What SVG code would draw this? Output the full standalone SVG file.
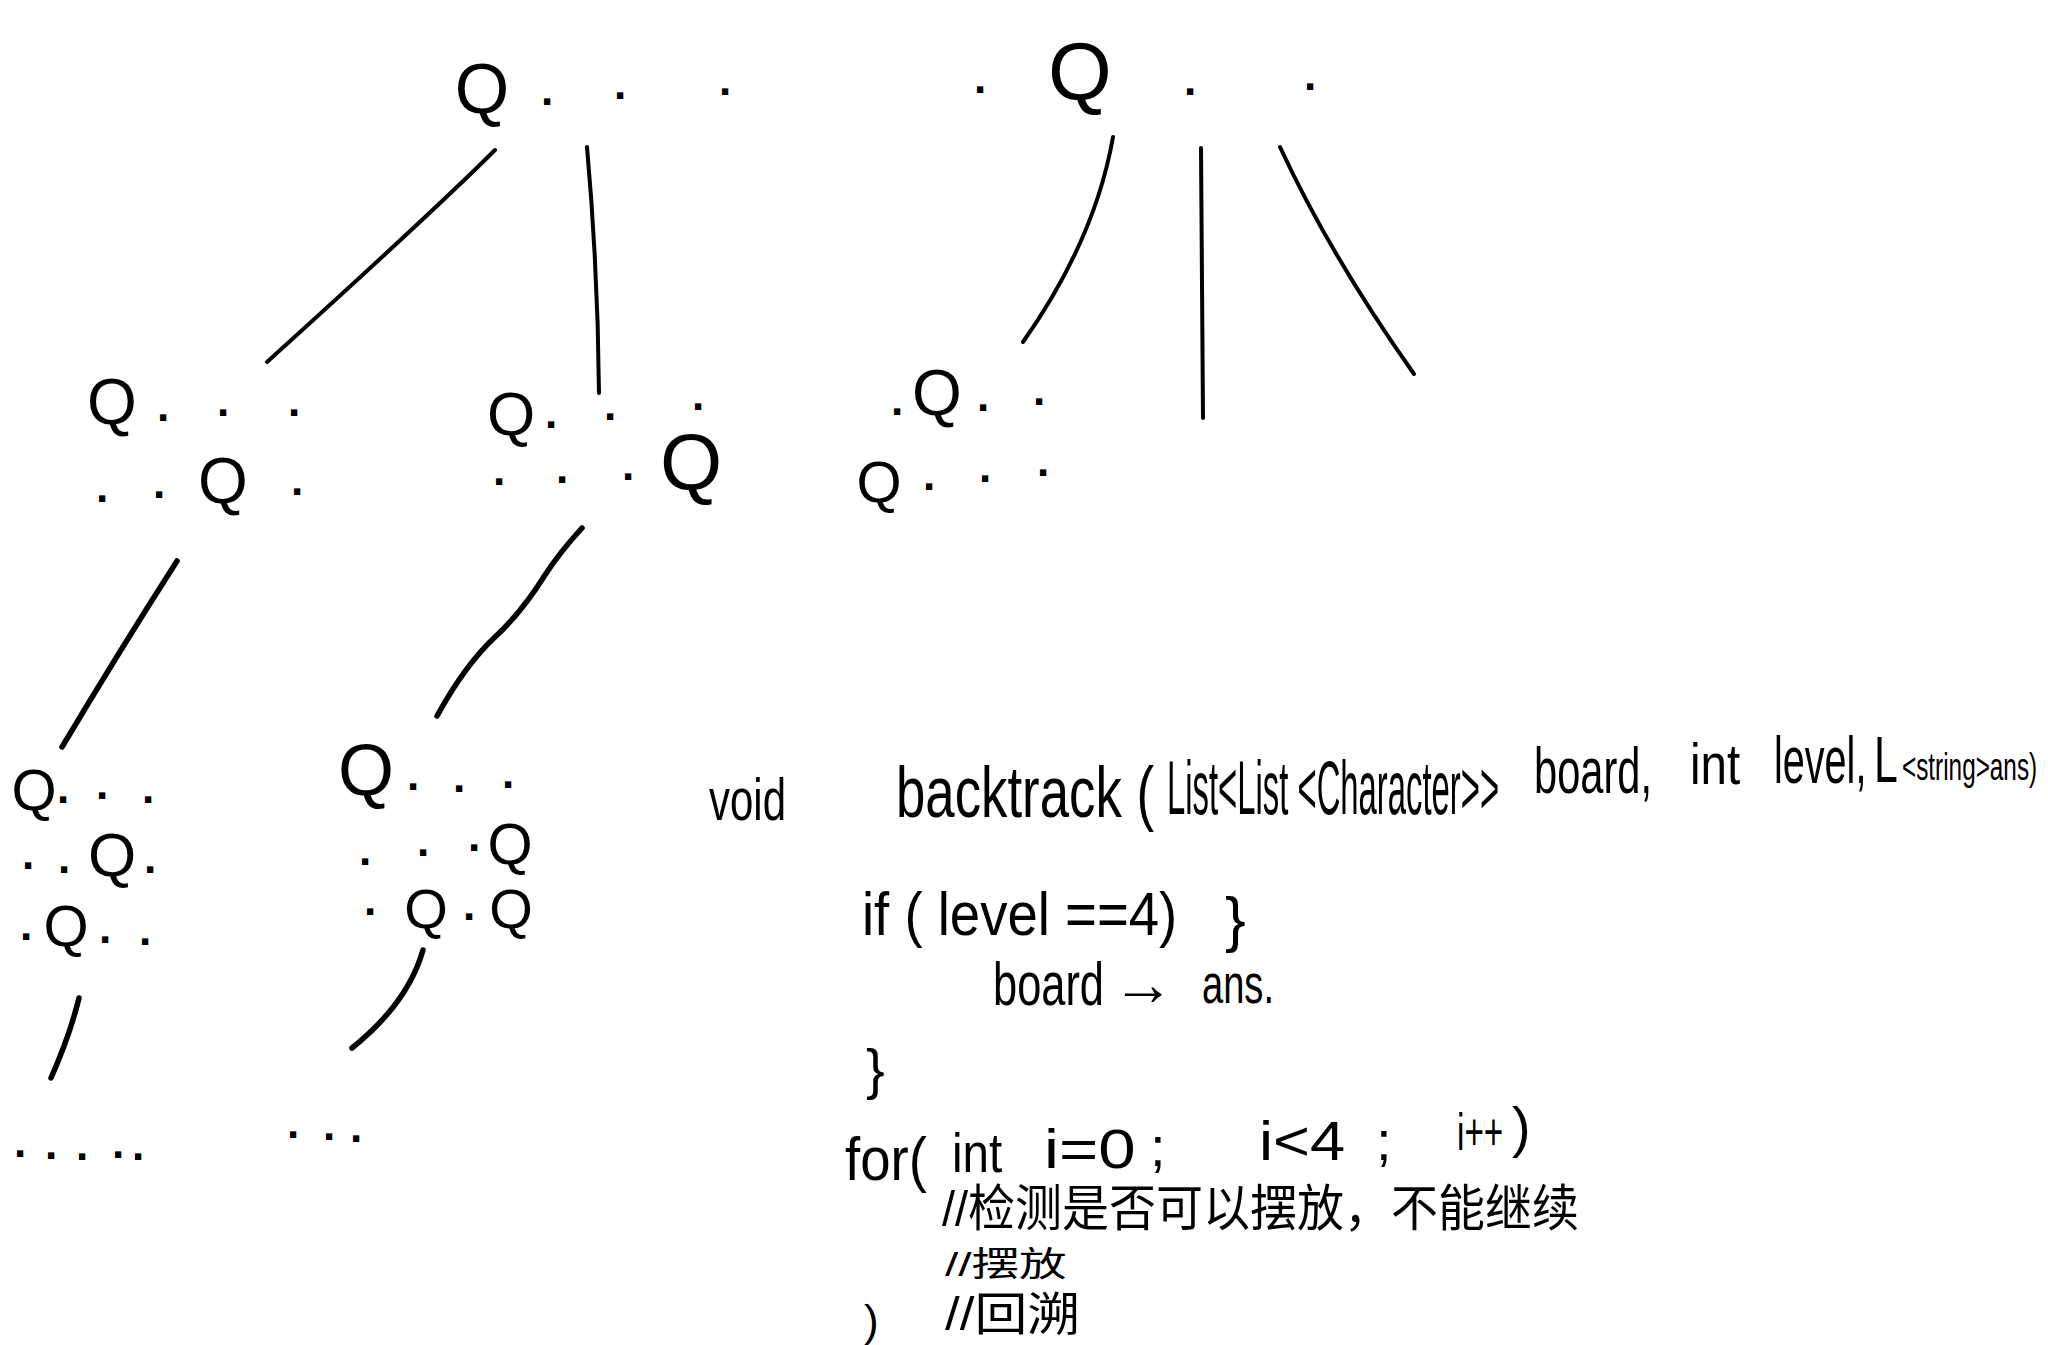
<svg xmlns="http://www.w3.org/2000/svg" width="2048" height="1345" viewBox="0 0 2048 1345">
<style>
text{font-family:"Liberation Sans","Noto Sans CJK SC",sans-serif;fill:#000}
.row{font-size:44px;font-weight:bold;text-anchor:middle}
.row .q{font-weight:normal}
#connectors path{fill:none;stroke:#000;stroke-width:4;stroke-linecap:round;stroke-linejoin:round}
#connectors .thick{stroke-width:5.5}
</style>
<rect width="2048" height="1345" fill="#fff"/>
<g id="connectors">
<path d="M495,150 C450,195 330,305 267,362"/>
<path d="M587,147 Q598,270 599,393"/>
<path d="M1113,137 Q1095,240 1023,342"/>
<path d="M1201,148 L1203,418"/>
<path d="M1280,147 Q1330,255 1414,374"/>
<path class="thick" d="M177,561 Q120,650 62,747"/>
<path class="thick" d="M582,528 Q560,552 545,575 Q522,612 495,637 Q465,665 437,716"/>
<path class="thick" d="M79,998 Q70,1035 51,1078"/>
<path class="thick" d="M423,950 Q408,1003 352,1048"/>
</g>
<g id="node-root1">
<text class="row"><tspan class="q" x="482" y="113" font-size="70">Q</tspan><tspan x="547" y="105">.</tspan><tspan x="620" y="99">.</tspan><tspan x="725" y="95">.</tspan></text>
</g>
<g id="node-root2">
<text class="row"><tspan x="980" y="93">.</tspan><tspan class="q" x="1080" y="100" font-size="82">Q</tspan><tspan x="1190" y="95">.</tspan><tspan x="1310" y="90">.</tspan></text>
</g>
<g id="node-a">
<text class="row"><tspan class="q" x="112" y="424" font-size="64">Q</tspan><tspan x="163" y="421">.</tspan><tspan x="223" y="416">.</tspan><tspan x="294" y="416">.</tspan></text>
<text class="row"><tspan x="102" y="502">.</tspan><tspan x="159" y="498">.</tspan><tspan class="q" x="223" y="503" font-size="64">Q</tspan><tspan x="297" y="495">.</tspan></text>
</g>
<g id="node-b">
<text class="row"><tspan class="q" x="511" y="435" font-size="62">Q</tspan><tspan x="551" y="428">.</tspan><tspan x="610" y="420">.</tspan><tspan x="698" y="410">.</tspan></text>
<text class="row"><tspan x="499" y="485">.</tspan><tspan x="562" y="483">.</tspan><tspan x="628" y="480">.</tspan><tspan class="q" x="691" y="490" font-size="80">Q</tspan></text>
</g>
<g id="node-c">
<text class="row"><tspan x="897" y="415">.</tspan><tspan class="q" x="937" y="415" font-size="64">Q</tspan><tspan x="983" y="411">.</tspan><tspan x="1039" y="405">.</tspan></text>
<text class="row"><tspan class="q" x="879" y="502" font-size="58">Q</tspan><tspan x="929" y="490">.</tspan><tspan x="985" y="482">.</tspan><tspan x="1043" y="476">.</tspan></text>
</g>
<g id="node-d">
<text class="row"><tspan class="q" x="34" y="810" font-size="58">Q</tspan><tspan x="63" y="803">.</tspan><tspan x="102" y="799">.</tspan><tspan x="148" y="803">.</tspan></text>
<text class="row"><tspan x="28" y="869">.</tspan><tspan x="64" y="873">.</tspan><tspan class="q" x="112" y="876" font-size="62">Q</tspan><tspan x="150" y="873">.</tspan></text>
<text class="row"><tspan x="26" y="940">.</tspan><tspan class="q" x="66" y="946" font-size="58">Q</tspan><tspan x="105" y="943">.</tspan><tspan x="145" y="945">.</tspan></text>
</g>
<g id="node-e">
<text class="row"><tspan class="q" x="366" y="795" font-size="72">Q</tspan><tspan x="413" y="790">.</tspan><tspan x="459" y="792">.</tspan><tspan x="508" y="788">.</tspan></text>
<text class="row"><tspan x="365" y="865">.</tspan><tspan x="423" y="856">.</tspan><tspan x="474" y="851">.</tspan><tspan class="q" x="510" y="864" font-size="58">Q</tspan></text>
<text class="row"><tspan x="370" y="915">.</tspan><tspan class="q" x="426" y="928" font-size="56">Q</tspan><tspan x="469" y="920">.</tspan><tspan class="q" x="511" y="928" font-size="56">Q</tspan></text>
</g>
<g id="ellipsis-d">
<text class="row" font-size="36"><tspan x="20" y="1157">.</tspan><tspan x="51" y="1159">.</tspan><tspan x="82" y="1160">.</tspan><tspan x="118" y="1158">.</tspan><tspan x="138" y="1160">.</tspan></text>
</g>
<g id="ellipsis-e">
<text class="row" font-size="36"><tspan x="293" y="1138">.</tspan><tspan x="329" y="1140">.</tspan><tspan x="356" y="1142">.</tspan></text>
</g>
<g id="code">
<text transform="translate(709,820) scale(0.7,1)" font-size="60">void</text>
<text transform="translate(896,817) scale(0.733,1)" font-size="72">backtrack (</text>
<text transform="translate(1167,814) scale(0.432,1)" font-size="76">List&lt;List &lt;Character&gt;&gt;</text>
<text transform="translate(1534,793) scale(0.65,1)" font-size="64">board,</text>
<text transform="translate(1690,784) scale(0.82,1)" font-size="58">int</text>
<text transform="translate(1774,783) scale(0.6,1)" font-size="66">level,</text>
<text transform="translate(1874,782) scale(0.67,1)" font-size="64">L</text>
<text transform="translate(1902,780) scale(0.64,1)" font-size="38">&lt;string&gt;ans)</text>
<text transform="translate(862,935) scale(0.88,1)" font-size="62">if ( level ==4)</text>
<text x="1225" y="940" font-size="62">}</text>
<text transform="translate(993,1005) scale(0.7,1)" font-size="62">board</text>
<text x="1112" y="1005" font-size="62">→</text>
<text transform="translate(1202,1003) scale(0.68,1)" font-size="56">ans.</text>
<text x="866" y="1088" font-size="56">}</text>
<text transform="translate(845,1180) scale(0.88,1)" font-size="62">for(</text>
<text transform="translate(952,1172) scale(0.85,1)" font-size="56">int</text>
<text transform="translate(1044,1168) scale(1.2,1)" font-size="56">i=0</text>
<text x="1150" y="1166" font-size="56">;</text>
<text transform="translate(1259,1160) scale(1.13,1)" font-size="56">i&lt;4</text>
<text x="1376" y="1160" font-size="56">;</text>
<text transform="translate(1457,1150) scale(0.64,1)" font-size="52">i++</text>
<text x="1512" y="1146" font-size="56">)</text>
<text transform="translate(942,1226) scale(0.94,1)" font-size="50">//检测是否可以摆放，不能继续</text>
<text transform="translate(945,1276) scale(1.4,1)" font-size="34">//摆放</text>
<text transform="translate(945,1330) scale(1.15,1)" font-size="46">//回溯</text>
<text x="864" y="1336" font-size="44">)</text>
</g>
</svg>
